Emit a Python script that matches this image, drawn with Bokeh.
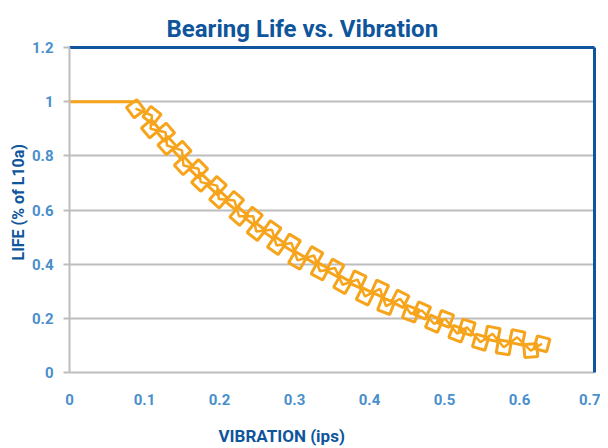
import math
from bokeh.plotting import figure
from bokeh.models import Range1d, FixedTicker, NumeralTickFormatter, LinearAxis, Title
from bokeh.embed import file_html
from bokeh.resources import INLINE

# ---- data ----
x_ticks = [0, 0.1, 0.2, 0.3, 0.4, 0.5, 0.6, 0.7]
y_ticks = [0, 0.2, 0.4, 0.6, 0.8, 1, 1.2]

flat_vib = [0.0, 0.09]
flat_life = [1.0, 1.0]

vib = [0.088, 0.110, 0.108, 0.128, 0.130, 0.150, 0.152, 0.172, 0.175, 0.197,
       0.199, 0.220, 0.226, 0.245, 0.249, 0.270, 0.276, 0.296, 0.304, 0.326,
       0.334, 0.354, 0.364, 0.384, 0.394, 0.414, 0.422, 0.441, 0.455, 0.470,
       0.486, 0.501, 0.517, 0.530, 0.548, 0.564, 0.579, 0.597, 0.615, 0.630]
life = [0.974, 0.949, 0.900, 0.887, 0.838, 0.820, 0.764, 0.752, 0.703, 0.690,
        0.641, 0.635, 0.577, 0.577, 0.521, 0.527, 0.469, 0.478, 0.414, 0.432,
        0.374, 0.386, 0.324, 0.343, 0.281, 0.309, 0.245, 0.272, 0.217, 0.229,
        0.180, 0.198, 0.143, 0.167, 0.112, 0.143, 0.093, 0.130, 0.081, 0.106]

ORANGE = "#F7A41D"
GRAY = "#BDBDBD"
BLUE = "#0E559C"
TICKBLUE = "#4A8FCB"
FONT = "Roboto"

X0, X1, Y0, Y1 = 0, 0.7, 0, 1.2
FW, FH = 525, 325
ML, MR, MT, MB = 69, 6, 47, 68
sx, sy = FW / (X1 - X0), FH / (Y1 - Y0)

# marker orientation follows local direction of the curve
angles = []
n = len(vib)
for i in range(n):
    a, b = max(0, i - 2), min(n - 1, i + 2)
    angles.append(math.atan2((life[b] - life[a]) * sy, (vib[b] - vib[a]) * sx))

p = figure(frame_width=FW, frame_height=FH, output_backend="svg", toolbar_location=None,
           x_range=Range1d(X0, X1), y_range=Range1d(Y0, Y1),
           min_border_left=ML, min_border_right=MR, min_border_top=MT, min_border_bottom=MB)
p.outline_line_color = None
p.background_fill_color = "white"
p.border_fill_color = "white"

p.title.text = "Bearing Life vs. Vibration"
p.title.text_font = FONT
p.title.text_font_size = "24px"
p.title.text_font_style = "bold"
p.title.text_color = BLUE
p.title.align = "left"
p.title.offset = 97

xa = p.xaxis[0]
xa.ticker = FixedTicker(ticks=x_ticks)
xa.formatter = NumeralTickFormatter(format="0.[0]")
xa.major_tick_line_color = None
xa.minor_tick_line_color = None
xa.axis_line_color = GRAY
xa.axis_line_width = 2
xa.major_label_standoff = 15
xa.major_label_text_font = FONT
xa.major_label_text_font_size = "15px"
xa.major_label_text_font_style = "bold"
xa.major_label_text_color = TICKBLUE

ya = p.yaxis[0]
ya.ticker = FixedTicker(ticks=y_ticks)
ya.formatter = NumeralTickFormatter(format="0.[0]")
ya.major_tick_line_color = GRAY
ya.major_tick_line_width = 2
ya.major_tick_out = 6
ya.major_tick_in = 0
ya.minor_tick_line_color = None
ya.axis_line_color = GRAY
ya.axis_line_width = 2
ya.major_label_standoff = 10
ya.major_label_text_font = FONT
ya.major_label_text_font_size = "15px"
ya.major_label_text_font_style = "bold"
ya.major_label_text_color = TICKBLUE

p.xgrid.visible = False
p.ygrid.ticker = FixedTicker(ticks=y_ticks)
p.ygrid.grid_line_color = GRAY
p.ygrid.grid_line_width = 2

for side in ("above", "right"):
    ax = LinearAxis(ticker=FixedTicker(ticks=[]), axis_line_color=BLUE, axis_line_width=3,
                    major_tick_line_color=None, minor_tick_line_color=None,
                    major_label_text_font_size="0px")
    p.add_layout(ax, side)

xt = Title(text="VIBRATION (ips)", align="left", offset=149, standoff=32, text_font=FONT,
           text_font_size="17px", text_font_style="bold", text_color=BLUE)
p.add_layout(xt, "below")
yt = Title(text="LIFE (% of L10a)", align="left", offset=112, standoff=2, text_font=FONT,
           text_font_size="16px", text_font_style="bold", text_color=BLUE)
p.add_layout(yt, "left")

p.line(flat_vib, flat_life, line_color=ORANGE, line_width=3)
p.line(vib, life, line_color=ORANGE, line_width=2.5)
p.scatter(vib, life, marker="square", size=13, angle=angles, fill_color=None,
          line_color=ORANGE, line_width=3)

open("out.html", "w").write(file_html(p, INLINE))
